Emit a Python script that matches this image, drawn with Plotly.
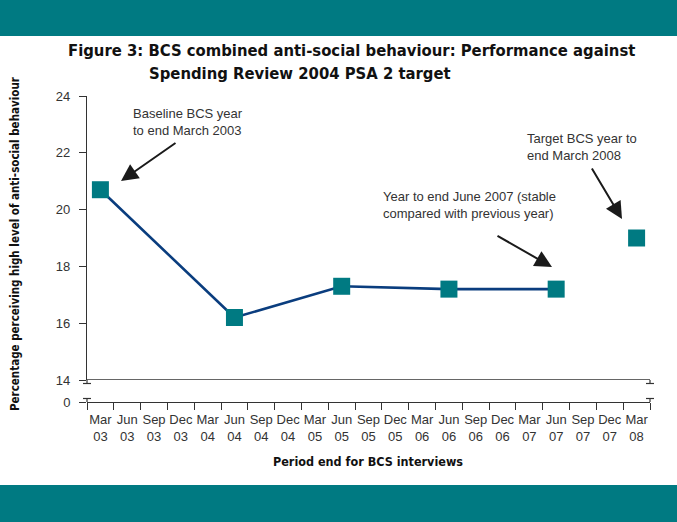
import plotly.graph_objects as go

# ---- data ----
periods = ["Mar<br>03", "Jun<br>03", "Sep<br>03", "Dec<br>03",
           "Mar<br>04", "Jun<br>04", "Sep<br>04", "Dec<br>04",
           "Mar<br>05", "Jun<br>05", "Sep<br>05", "Dec<br>05",
           "Mar<br>06", "Jun<br>06", "Sep<br>06", "Dec<br>06",
           "Mar<br>07", "Jun<br>07", "Sep<br>07", "Dec<br>07",
           "Mar<br>08"]
measured_periods = ["Mar<br>03", "Jun<br>04", "Jun<br>05", "Jun<br>06", "Jun<br>07"]
measured_values = [20.7, 16.2, 17.3, 17.2, 17.2]
target_periods = ["Mar<br>08"]
target_values = [19.0]
y_ticks = [14, 16, 18, 20, 22, 24]

W, H = 677, 522
L, R, T, B = 87, 650, 96, 402   # plot area in pixels
PW, PH = R - L, B - T

def px(x):
    return (x - L) / PW

def py(y):
    return (B - y) / PH

TEAL = "#007A82"
NAVY = "#0A3D7E"
AX = "#333333"
NARROW = "Liberation Sans Narrow, DejaVu Sans Condensed, Arial Narrow, sans-serif"
SANS = "Liberation Sans, Arial, sans-serif"

fig = go.Figure()
fig.add_trace(go.Scatter(
    x=measured_periods, y=measured_values, mode="lines+markers",
    line=dict(color=NAVY, width=2.6),
    marker=dict(symbol="square", size=17, color=TEAL),
    xaxis="x", yaxis="y", showlegend=False, hoverinfo="x+y"))
fig.add_trace(go.Scatter(
    x=target_periods, y=target_values, mode="markers",
    marker=dict(symbol="square", size=17, color=TEAL),
    xaxis="x", yaxis="y", showlegend=False))
fig.add_trace(go.Scatter(x=[periods[0]], y=[0], mode="markers",
                         marker=dict(opacity=0), xaxis="x", yaxis="y2",
                         showlegend=False, hoverinfo="skip"))

split = py(380)

fig.update_layout(
    width=W, height=H,
    margin=dict(l=L, r=W - R, t=T, b=H - B, autoexpand=False),
    paper_bgcolor="white", plot_bgcolor="white",
    font=dict(family=SANS, size=13, color=AX),
    xaxis=dict(type="category", categoryorder="array", categoryarray=periods,
               range=[-0.5, len(periods) - 0.5], anchor="y2",
               showline=True, linecolor=AX, linewidth=1.3,
               ticks="outside", ticklen=7, tickcolor=AX, tickwidth=1.2,
               tickson="boundaries", tickangle=0, showgrid=False,
               ticklabelstandoff=5,
               tickfont=dict(family=SANS, size=13, color=AX)),
    yaxis=dict(domain=[split, 1], range=[14, 24], tickvals=y_ticks,
               anchor="x", showline=True, linecolor=AX, linewidth=1.3,
               ticks="outside", ticklen=7, tickcolor=AX, tickwidth=1.2,
               showgrid=False, zeroline=False, ticklabelstandoff=6,
               tickfont=dict(family=SANS, size=13, color=AX)),
    yaxis2=dict(domain=[0, split * 0.5], range=[0, 1], tickvals=[0],
                anchor="x", showline=False,
                ticks="outside", ticklen=7, tickcolor=AX, tickwidth=1.2,
                showgrid=False, zeroline=False, ticklabelstandoff=6,
                tickfont=dict(family=SANS, size=13, color=AX)),
)

shapes = []
# teal bands
shapes.append(dict(type="rect", xref="paper", yref="paper",
                   x0=px(0), x1=px(W), y0=py(0), y1=py(36),
                   fillcolor=TEAL, line=dict(width=0), layer="below"))
shapes.append(dict(type="rect", xref="paper", yref="paper",
                   x0=px(0), x1=px(W), y0=py(485), y1=py(H),
                   fillcolor=TEAL, line=dict(width=0), layer="below"))
# upper baseline at 14
shapes.append(dict(type="line", xref="paper", yref="y", x0=0, x1=1, y0=14, y1=14,
                   line=dict(color=AX, width=1.3)))
# axis break marks
def seg(x0, y0, x1, y1):
    return dict(type="line", xref="paper", yref="paper",
                x0=px(x0), x1=px(x1), y0=py(y0), y1=py(y1),
                line=dict(color=AX, width=1.2))
for xc in (L, R):
    shapes.append(seg(xc, 380, xc, 383.5))
    shapes.append(seg(xc - 4, 383.5, xc + 4, 383.5))
    shapes.append(seg(xc, 398.5, xc, 402))
    shapes.append(seg(xc - 4, 398.5, xc + 4, 398.5))
fig.update_layout(shapes=shapes)

ann = []
# title
ann.append(dict(text="<b>Figure 3: BCS combined anti-social behaviour: Performance against</b>",
                xref="paper", yref="paper", x=px(66), y=py(50), xanchor="left", yanchor="middle",
                showarrow=False, font=dict(family=NARROW, size=16.5, color="#111111")))
ann.append(dict(text="<b>Spending Review 2004 PSA 2 target</b>",
                xref="paper", yref="paper", x=px(147), y=py(73), xanchor="left", yanchor="middle",
                showarrow=False, font=dict(family=NARROW, size=16.5, color="#111111")))
# axis titles
ann.append(dict(text="<b>Period end for BCS interviews</b>",
                xref="paper", yref="paper", x=px(368), y=py(461), xanchor="center", yanchor="middle",
                showarrow=False, font=dict(family=NARROW, size=12.5, color="#111111")))
ann.append(dict(text="<b>Percentage perceiving high level of anti-social behaviour</b>",
                xref="paper", yref="paper", x=px(15), y=py(244), xanchor="center", yanchor="middle",
                textangle=-90, showarrow=False,
                font=dict(family=NARROW, size=11.5, color="#111111")))
# callout texts
def note(text, x, y):
    ann.append(dict(text=text, xref="paper", yref="paper", x=px(x), y=py(y),
                    xanchor="left", yanchor="middle", align="left", showarrow=False,
                    font=dict(family=SANS, size=13, color=AX)))
note("Baseline BCS year<br>to end March 2003", 131, 122)
note("Year to end June 2007 (stable<br>compared with previous year)", 381, 205)
note("Target BCS year to<br>end March 2008", 525, 147)
# arrows
def arrow(tx, ty, hx, hy):
    ann.append(dict(text="", xref="paper", yref="paper", x=px(hx), y=py(hy),
                    axref="pixel", ayref="pixel", ax=tx - hx, ay=ty - hy,
                    showarrow=True, arrowhead=2, arrowsize=1.7, arrowwidth=2,
                    arrowcolor="#1a1a1a"))
arrow(177, 142, 121, 181)
arrow(496, 235, 552, 267)
arrow(591, 167, 622, 219)
fig.update_layout(annotations=ann)

fig.write_html("out.html", config={"displayModeBar": False},
               post_script="document.body.style.margin='0';document.body.style.padding='0';")
